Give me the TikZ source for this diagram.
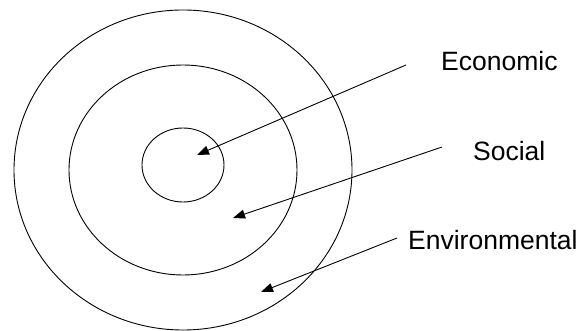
\documentclass[tikz,border=0pt]{standalone}
\usepackage{fontspec}
\setmainfont{Liberation Sans}
\newfontfamily\tagfont{Liberation Sans}
\usetikzlibrary{arrows.meta}

\begin{document}
\begin{tikzpicture}[x=1pt, y=-1pt,
    ring/.style={black, line width=0.9pt},
    pointer/.style={-{Triangle[length=12pt,width=9pt]}, line width=0.9pt},
    tag/.style={anchor=base west, inner sep=0pt, font=\tagfont\fontsize{26.5}{30}\selectfont}]
    % --- frame ---
    \useasboundingbox (0,0) rectangle (584,331);

    % --- rings ---
    \coordinate (centre) at (183,170);
    \draw[ring] (centre) ellipse [x radius=169, y radius=160];   % environmental
    \draw[ring] (centre) ellipse [x radius=114, y radius=105];   % social
    \draw[ring] (183,165) ellipse [x radius=41, y radius=37];    % economic

    % --- labels ---
    \node[tag] (economic) at (441,71) {Economic};
    \node[tag] (social) at (473,161) {Social};
    \node[tag] (environmental) at (408,250) {Environmental};

    % --- arrow ends ---
    \coordinate (econ start) at (406,65);
    \coordinate (econ tip) at (197,155);
    \coordinate (soc start) at (442,147);
    \coordinate (soc tip) at (233,218);
    \coordinate (env start) at (397,238);
    \coordinate (env tip) at (261,292);

    % --- arrows ---
    \draw[pointer] (econ start) -- (econ tip);
    \draw[pointer] (soc start) -- (soc tip);
    \draw[pointer] (env start) -- (env tip);
\end{tikzpicture}
\end{document}
